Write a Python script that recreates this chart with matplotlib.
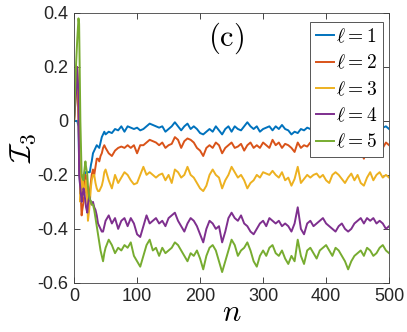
import numpy as np
import matplotlib
matplotlib.use("Agg")
import matplotlib.pyplot as plt

plt.rcParams['mathtext.fontset'] = 'cm'
plt.rcParams['font.family'] = ['Liberation Sans', 'DejaVu Sans']

# ---- data ----
n_early = [0, 3, 5, 7, 8, 10, 12, 13, 15, 16, 18, 19, 21, 22, 24, 25, 27, 28, 30, 32, 34, 36, 38, 40, 42, 44, 46, 48]
n_late = list(range(50, 501, 5))
n = n_early + n_late

l1 = ([0, 0, 0, -0.02, -0.15, -0.27, -0.24, -0.22, -0.2, -0.2, -0.19, -0.19, -0.19, -0.19, -0.19, -0.19, -0.16, -0.15, -0.12, -0.11, -0.1, -0.09, -0.095, -0.1, -0.08, -0.06, -0.05, -0.04]
      + [-0.05, -0.04, -0.045, -0.03, -0.035, -0.02, -0.04, -0.02, -0.025, -0.03, -0.025, -0.035, -0.03, -0.02, -0.01, -0.015, -0.02, -0.025, -0.02, -0.04]
      + [-0.03, -0.02, -0.005, -0.02, -0.035, -0.02, -0.01, -0.03, -0.02, -0.03, -0.045, -0.05, -0.04, -0.03, -0.04, -0.02, -0.035, -0.05, -0.03, -0.02]
      + [-0.04, -0.02, -0.03, -0.035, -0.02, -0.005, -0.02, -0.03, -0.02, -0.04, -0.03, -0.025, -0.02, -0.035, -0.02, -0.03, -0.015, -0.03, -0.035, -0.05]
      + [-0.04, -0.045, -0.03, -0.035, -0.025, -0.03, -0.04, -0.02, -0.03, -0.03, -0.03, -0.035, -0.03, -0.025, -0.03, -0.035, -0.03, -0.03, -0.025, -0.03]
      + [-0.035, -0.03, -0.03, -0.02, -0.03, -0.03, -0.02, -0.03, -0.025, -0.02, -0.03])
l2 = ([0, 0.15, 0.15, 0.0, -0.1, -0.25, -0.35, -0.33, -0.3, -0.25, -0.2, -0.22, -0.25, -0.28, -0.3, -0.26, -0.22, -0.2, -0.18, -0.2, -0.17, -0.14, -0.14, -0.15, -0.13, -0.12, -0.1, -0.09]
      + [-0.1, -0.12, -0.13, -0.11, -0.1, -0.095, -0.1, -0.09, -0.1, -0.09, -0.12, -0.09, -0.09, -0.08, -0.07, -0.075, -0.08, -0.09, -0.08, -0.1]
      + [-0.09, -0.085, -0.06, -0.07, -0.1, -0.075, -0.065, -0.07, -0.08, -0.1, -0.11, -0.13, -0.1, -0.09, -0.1, -0.08, -0.09, -0.12, -0.1, -0.09]
      + [-0.08, -0.1, -0.095, -0.085, -0.11, -0.09, -0.08, -0.1, -0.09, -0.1, -0.08, -0.09, -0.1, -0.07, -0.09, -0.08, -0.1, -0.085, -0.09, -0.1]
      + [-0.115, -0.08, -0.1, -0.09, -0.095, -0.08, -0.09, -0.085, -0.08, -0.1, -0.08, -0.085, -0.09, -0.08, -0.09, -0.1, -0.09, -0.095, -0.09, -0.1]
      + [-0.095, -0.11, -0.14, -0.1, -0.09, -0.1, -0.11, -0.08, -0.1, -0.08, -0.09])
l3 = ([0, 0.1, 0.2, 0.1, -0.05, -0.3, -0.25, -0.2, -0.24, -0.28, -0.25, -0.22, -0.3, -0.37, -0.33, -0.3, -0.24, -0.22, -0.2, -0.2, -0.23, -0.25, -0.26, -0.26, -0.25, -0.24, -0.22, -0.19]
      + [-0.18, -0.22, -0.25, -0.2, -0.23, -0.21, -0.19, -0.2, -0.22, -0.235, -0.23, -0.2, -0.17, -0.2, -0.19, -0.2, -0.21, -0.2, -0.195, -0.22]
      + [-0.2, -0.23, -0.18, -0.19, -0.21, -0.2, -0.17, -0.2, -0.21, -0.23, -0.25, -0.26, -0.24, -0.2, -0.18, -0.2, -0.21, -0.25, -0.22, -0.2]
      + [-0.17, -0.19, -0.21, -0.2, -0.22, -0.25, -0.23, -0.22, -0.2, -0.21, -0.19, -0.195, -0.2, -0.185, -0.2, -0.21, -0.19, -0.22, -0.21, -0.24]
      + [-0.215, -0.17, -0.23, -0.215, -0.2, -0.21, -0.2, -0.195, -0.21, -0.2, -0.22, -0.23, -0.2, -0.19, -0.2, -0.215, -0.23, -0.21, -0.195, -0.22]
      + [-0.2, -0.23, -0.24, -0.21, -0.19, -0.22, -0.2, -0.19, -0.21, -0.2, -0.21])
l4 = ([0, 0.1, 0.2, 0.1, -0.2, -0.25, -0.3, -0.28, -0.25, -0.26, -0.3, -0.32, -0.34, -0.31, -0.28, -0.29, -0.3, -0.31, -0.3, -0.32, -0.33, -0.35, -0.38, -0.39, -0.4, -0.41, -0.41, -0.39]
      + [-0.37, -0.35, -0.38, -0.36, -0.4, -0.37, -0.36, -0.39, -0.36, -0.38, -0.42, -0.43, -0.39, -0.35, -0.38, -0.37, -0.36, -0.38, -0.37, -0.39]
      + [-0.36, -0.35, -0.34, -0.37, -0.39, -0.41, -0.38, -0.36, -0.37, -0.39, -0.42, -0.45, -0.4, -0.37, -0.38, -0.4, -0.39, -0.45, -0.41, -0.36]
      + [-0.34, -0.36, -0.37, -0.35, -0.38, -0.39, -0.41, -0.42, -0.4, -0.38, -0.37, -0.39, -0.36, -0.37, -0.38, -0.37, -0.39, -0.38, -0.39, -0.41]
      + [-0.38, -0.32, -0.4, -0.42, -0.38, -0.37, -0.39, -0.38, -0.37, -0.36, -0.38, -0.39, -0.4, -0.41, -0.39, -0.38, -0.4, -0.41, -0.4, -0.38]
      + [-0.37, -0.36, -0.38, -0.36, -0.37, -0.36, -0.38, -0.37, -0.38, -0.4, -0.39])
l5 = ([0, 0.2, 0.3, 0.38, 0.36, 0.0, -0.2, -0.21, -0.22, -0.19, -0.15, -0.17, -0.2, -0.24, -0.28, -0.29, -0.3, -0.31, -0.31, -0.33, -0.36, -0.39, -0.42, -0.45, -0.48, -0.5, -0.52, -0.49]
      + [-0.47, -0.44, -0.46, -0.49, -0.47, -0.48, -0.46, -0.47, -0.45, -0.5, -0.52, -0.54, -0.5, -0.46, -0.44, -0.48, -0.47, -0.5, -0.47, -0.49]
      + [-0.48, -0.47, -0.45, -0.46, -0.48, -0.5, -0.52, -0.49, -0.5, -0.48, -0.51, -0.55, -0.5, -0.47, -0.46, -0.48, -0.52, -0.56, -0.52, -0.48]
      + [-0.44, -0.46, -0.5, -0.48, -0.47, -0.45, -0.48, -0.52, -0.54, -0.5, -0.48, -0.5, -0.47, -0.46, -0.49, -0.5, -0.48, -0.51, -0.53, -0.5]
      + [-0.52, -0.44, -0.5, -0.53, -0.48, -0.47, -0.49, -0.51, -0.48, -0.47, -0.46, -0.48, -0.5, -0.47, -0.48, -0.5, -0.52, -0.55, -0.52, -0.5]
      + [-0.49, -0.48, -0.5, -0.47, -0.48, -0.5, -0.49, -0.47, -0.46, -0.48, -0.49])

series = [l1, l2, l3, l4, l5]
labels = [r'$\ell = 1$', r'$\ell = 2$', r'$\ell = 3$', r'$\ell = 4$', r'$\ell = 5$']
colors = ['#0072BD', '#D95319', '#EDB120', '#7E2F8E', '#77AC30']
xticks = [0, 100, 200, 300, 400, 500]
yticks = [-0.6, -0.4, -0.2, 0, 0.2, 0.4]
ytick_labels = ['-0.6', '-0.4', '-0.2', '0', '0.2', '0.4']

fig = plt.figure(figsize=(4.07, 3.32), dpi=100)
ax = fig.add_axes([0.182, 0.148, 0.774, 0.813])
for s, lab, c in zip(series, labels, colors):
    m = min(len(n), len(s))
    ax.plot(n[:m], s[:m], color=c, lw=1.4, label=lab)

ax.set_xlim(0, 500)
ax.set_ylim(-0.6, 0.4)
ax.set_xticks(xticks)
ax.set_yticks(yticks)
ax.set_yticklabels(ytick_labels)
ax.tick_params(direction='in', length=4, width=0.6, colors='#262626',
               labelsize=13, top=True, right=True, pad=4)
for sp in ax.spines.values():
    sp.set_color('#404040')
    sp.set_linewidth(0.6)

ax.set_xlabel(r'$n$', fontsize=22, labelpad=-5)
ax.set_ylabel(r'$\mathcal{I}_3$', fontsize=22, labelpad=0)
ax.text(0.483, 0.907, r'$\mathrm{(c)}$', transform=ax.transAxes,
        fontsize=22, ha='center', va='center')

leg = ax.legend(loc='upper right', bbox_to_anchor=(0.981, 0.967), fontsize=14,
                frameon=True, fancybox=False, framealpha=1, edgecolor='#555555',
                handlelength=0.95, handletextpad=0.1, borderpad=0.3,
                borderaxespad=0, labelspacing=0.4)
leg.get_frame().set_linewidth(0.7)

fig.savefig('out.png', dpi=100)
